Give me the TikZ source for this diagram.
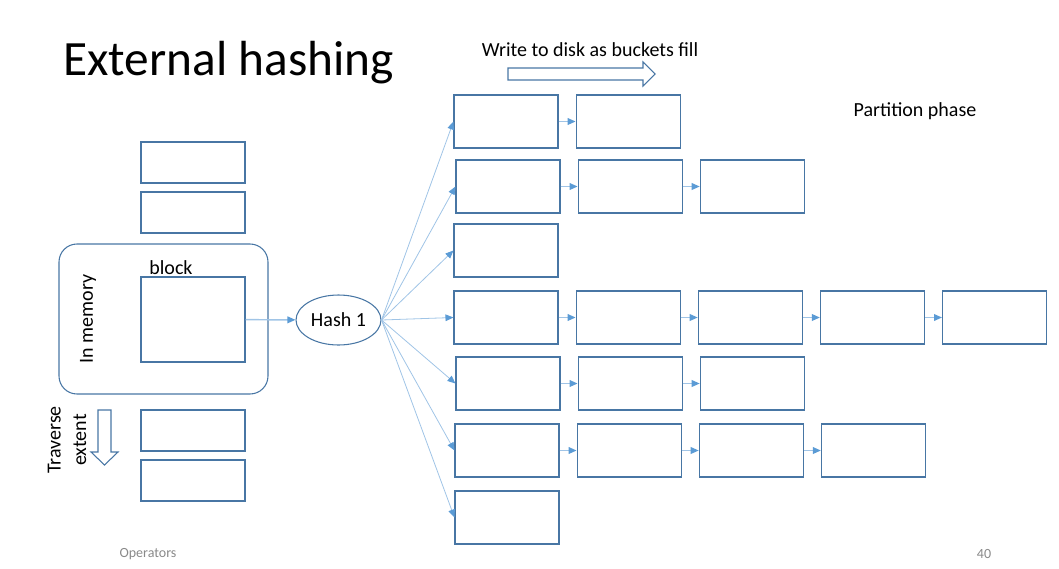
\documentclass[tikz,border=0pt]{standalone}
\usepackage{fontspec}
\setmainfont{Carlito}
\usetikzlibrary{positioning,arrows.meta,shapes.geometric}
\definecolor{hbline}{RGB}{72,118,164}
\definecolor{hbfan}{RGB}{160,196,230}
\definecolor{hbtip}{RGB}{91,155,213}
\definecolor{hbgray}{RGB}{137,137,137}

\begin{document}
\begin{tikzpicture}[
  x=0.75pt, y=-0.75pt,
  font=\fontsize{15}{18}\selectfont,
  node distance=12.8pt,
  bucket/.style={rectangle, draw=hbline, line width=0.8pt,
    minimum width=78pt, minimum height=39.75pt, inner sep=0pt},
  page/.style={bucket, minimum height=30.75pt},
  mem/.style={rectangle, rounded corners=13.5pt, draw=hbline, line width=0.8pt,
    minimum width=156.75pt, minimum height=112.5pt, inner sep=0pt},
  hashnode/.style={ellipse, draw=hbline, line width=0.8pt,
    minimum width=63.75pt, minimum height=37.5pt, inner sep=0pt},
  fan/.style={-{Triangle[length=6pt, width=5pt, color=hbtip]}, draw=hbfan, line width=0.6pt},
  link/.style={-{Triangle[length=6pt, width=5pt, color=hbtip]}, draw=hbfan, line width=1.1pt},
  hollow/.style={draw=hbline, line width=0.8pt, line join=miter}
]
\useasboundingbox (0,0) rectangle (1059,568);

\node[anchor=base west, inner sep=0pt, font=\fontsize{37}{44}\selectfont]
  (title) at (63,75) {External hashing};

% pages of the extent
\node[page] (p1) at (193,162.5) {};
\node[page] (p2) at (193,212.5) {};
\node[mem] (mem) at (163.5,319) {};
\node[bucket, minimum height=63.75pt] (blk) at (193,319.5) {};
\node[page] (p3) at (193,430.5) {};
\node[page] (p4) at (193,480.5) {};
\node (blocklbl) at (171,268) {block};
\node[rotate=90] (memlbl) at (88,319) {In memory};
\node[rotate=90, align=center, font=\fontsize{15}{19}\selectfont]
  (trav) at (67,440) {Traverse\\extent};
\draw[hollow] (98,410) -- (111,410) -- (111,452) -- (118,452) -- (104.5,465)
  -- (91,452) -- (98,452) -- cycle;

\node[hashnode] (hash) at (338.5,320) {Hash 1};
\draw[link] (blk) -- (hash);

% buckets, one row per hash value
\node[bucket] (r1) at (506,121.5) {};
\node[bucket, right=of r1] (r1b) {};
\node[bucket] (r2) at (508,186.5) {};
\node[bucket, right=of r2] (r2b) {};
\node[bucket, right=of r2b] (r2c) {};
\node[bucket] (r3) at (506,250.5) {};
\node[bucket] (r4) at (506,317.5) {};
\node[bucket, right=of r4] (r4b) {};
\node[bucket, right=of r4b] (r4c) {};
\node[bucket, right=of r4c] (r4d) {};
\node[bucket, right=of r4d] (r4e) {};
\node[bucket] (r5) at (508,383.5) {};
\node[bucket, right=of r5] (r5b) {};
\node[bucket, right=of r5b] (r5c) {};
\node[bucket] (r6) at (507,450.5) {};
\node[bucket, right=of r6] (r6b) {};
\node[bucket, right=of r6b] (r6c) {};
\node[bucket, right=of r6c] (r6d) {};
\node[bucket] (r7) at (507,517.5) {};

\foreach \r in {1,...,7}
  \draw[fan] (hash.east) -- (r\r.west);
\foreach \a/\b in {r1/r1b, r2/r2b, r2b/r2c, r4/r4b, r4b/r4c, r4c/r4d, r4d/r4e,
    r5/r5b, r5b/r5c, r6/r6b, r6b/r6c, r6c/r6d}
  \draw[link] (\a) -- (\b);

\node (write) at (590,50) {Write to disk as buckets fill};
\draw[hollow] (508,68) -- (643,68) -- (643,62) -- (655,74) -- (643,86)
  -- (643,80) -- (508,80) -- cycle;

\node (phase) at (915,111) {Partition phase};
\node[text=hbgray, font=\fontsize{10.5}{12}\selectfont] (foot) at (148,554) {Operators};
\node[text=hbgray, font=\fontsize{10.5}{12}\selectfont] (pageno) at (984,554) {40};
\end{tikzpicture}
\end{document}
